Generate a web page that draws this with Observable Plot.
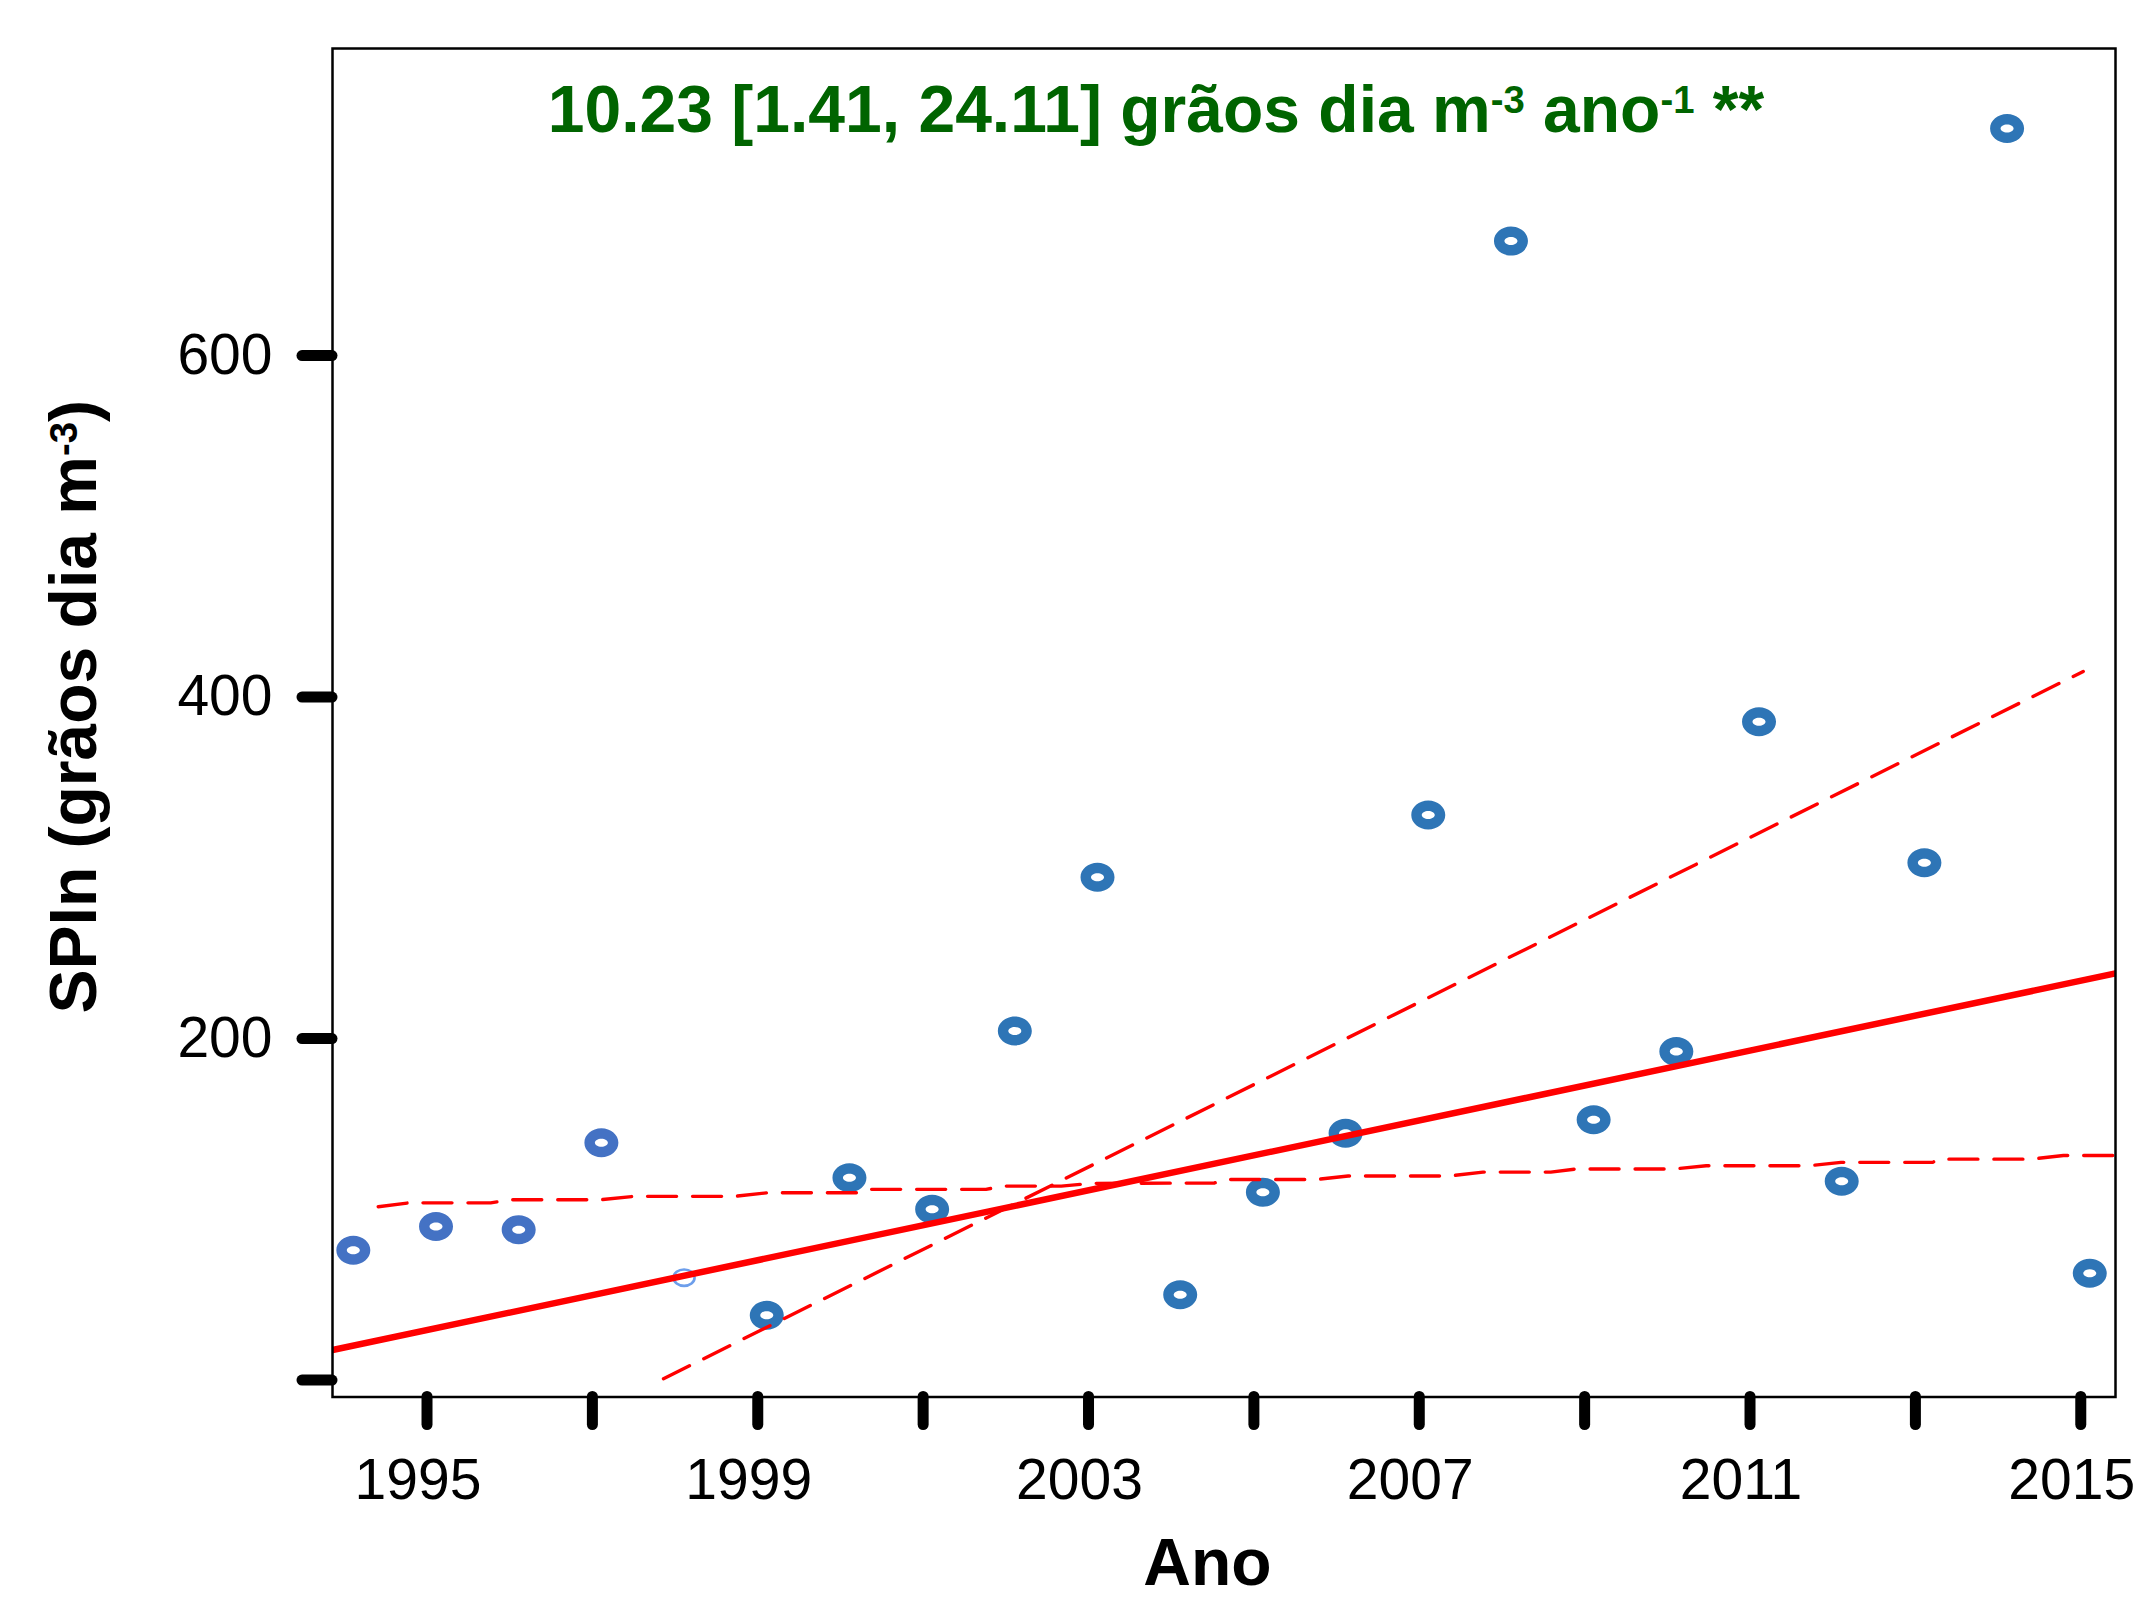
<!DOCTYPE html>
<html>
<head>
<meta charset="utf-8">
<script src="https://cdn.jsdelivr.net/npm/d3@7"></script>
<script src="https://cdn.jsdelivr.net/npm/@observablehq/plot@0.6"></script>
<style>
  html, body { margin: 0; padding: 0; background: #ffffff; }
  #chart { width: 2136px; height: 1604px; overflow: hidden; }
</style>
</head>
<body>
<div id="chart"></div>
<script>
// ---------------- data ----------------
const years = [1994, 1995, 1996, 1997, 1998, 1999, 2000, 2001, 2002, 2003, 2004,
               2005, 2006, 2007, 2008, 2009, 2010, 2011, 2012, 2013, 2014, 2015];
const spin = [76, 90, 88, 139, 60, 38, 118.5, 100, 204.5, 294.5, 50,
              110, 144.5, 331, 667, 152.5, 192.5, 385.5, 116.5, 303, 733, 62.5];
const pointGroup = ["early", "early", "early", "early", "hollow",
                    "late", "late", "late", "late", "late", "late", "late", "late", "late",
                    "late", "late", "late", "late", "late", "late", "late", "late"];

// fitted trend (solid) and the two dashed bounds
const trendYear = [1993.857, 2015.42];
const trendValue = [17.6, 238.2];
const lowerYear = [1994.41, 1994.78, 1995.77, 1996.02, 1997.10, 1997.50, 1998.71, 1999.12,
                   2000.25, 2000.34, 2001.76, 2001.98, 2002.67, 2003.03, 2004.52, 2004.66,
                   2005.75, 2006.14, 2007.36, 2007.77, 2008.59, 2008.89, 2010.07, 2010.47,
                   2011.70, 2012.10, 2013.21, 2013.28, 2014.40, 2014.79, 2015.42];
const lowerValue = [101.5, 103.8, 103.8, 105.6, 105.6, 107.6, 107.6, 109.7,
                    109.7, 111.7, 111.7, 113.6, 113.6, 115.2, 115.4, 117.5,
                    117.5, 119.5, 119.5, 121.8, 121.8, 123.6, 123.6, 125.5,
                    125.5, 127.5, 127.5, 129.4, 129.4, 131.5, 131.5];
const upperYear = [1997.86, 2015.03];
const upperValue = [0.8, 415];

// ticks and labels
const xTicks = [1995, 1997, 1999, 2001, 2003, 2005, 2007, 2009, 2011, 2013, 2015];
const xTickLabels = ["1995", "", "1999", "", "2003", "", "2007", "", "2011", "", "2015"];
const yTicks = [0, 200, 400, 600];
const yTickLabels = ["", "200", "400", "600"];

const titleText = "10.23 [1.41, 24.11] grãos dia m^{-3} ano^{-1} **";
const yLabelText = "SPIn (grãos dia m^{-3})";
const xLabelText = "Ano";

// ---------------- tables for the library ----------------
const points = years.map((y, i) => ({year: y, value: spin[i], group: pointGroup[i]}));
const trend = trendYear.map((y, i) => ({year: y, value: trendValue[i]}));
const lower = lowerYear.map((y, i) => ({year: y, value: lowerValue[i]}));
const upper = upperYear.map((y, i) => ({year: y, value: upperValue[i]}));

// elliptical donut symbol (outer clockwise, inner counter-clockwise -> hole)
function ellipsePath(ctx, rx, ry, ccw) {
  const k = 0.5523;
  ctx.moveTo(rx, 0);
  if (!ccw) {
    ctx.bezierCurveTo(rx, k * ry, k * rx, ry, 0, ry);
    ctx.bezierCurveTo(-k * rx, ry, -rx, k * ry, -rx, 0);
    ctx.bezierCurveTo(-rx, -k * ry, -k * rx, -ry, 0, -ry);
    ctx.bezierCurveTo(k * rx, -ry, rx, -k * ry, rx, 0);
  } else {
    ctx.bezierCurveTo(rx, -k * ry, k * rx, -ry, 0, -ry);
    ctx.bezierCurveTo(-k * rx, -ry, -rx, -k * ry, -rx, 0);
    ctx.bezierCurveTo(-rx, k * ry, -k * rx, ry, 0, ry);
    ctx.bezierCurveTo(k * rx, ry, rx, k * ry, rx, 0);
  }
  ctx.closePath();
}
const donut = {draw(ctx) { ellipsePath(ctx, 17, 14.5, false); ellipsePath(ctx, 6.5, 4, true); }};
const ring = {draw(ctx) { ellipsePath(ctx, 10.5, 8.2, false); }};

const FONT = "'Liberation Sans', Arial, Helvetica, sans-serif";

const chart = Plot.plot({
  width: 2136,
  height: 1604,
  marginLeft: 332,
  marginRight: 21,
  marginTop: 48,
  marginBottom: 207.5,
  style: {background: "#ffffff", color: "#000000", fontFamily: FONT, fontSize: "57px"},
  x: {domain: [1993.857, 2015.42]},
  y: {domain: [-9.9, 779.8]},
  marks: [
    // points
    Plot.dot(points, {filter: d => d.group === "early", x: "year", y: "value", symbol: donut, fill: "#4472C4", dx: 9}),
    Plot.dot(points, {filter: d => d.group === "late", x: "year", y: "value", symbol: donut, fill: "#2E75B6", dx: 9}),
    Plot.dot(points, {filter: d => d.group === "hollow", x: "year", y: "value", symbol: ring, fill: "none", stroke: "#6D9EEB", strokeWidth: 2.6, dx: 9}),
    // dashed bounds
    Plot.line(lower, {x: "year", y: "value", stroke: "#FF0000", strokeWidth: 3.4, strokeDasharray: "29,16", strokeLinecap: "round", clip: true}),
    Plot.line(upper, {x: "year", y: "value", stroke: "#FF0000", strokeWidth: 3.4, strokeDasharray: "29,16", strokeLinecap: "round", clip: true}),
    // trend
    Plot.line(trend, {x: "year", y: "value", stroke: "#FF0000", strokeWidth: 6.5, clip: true}),
    // axes
    Plot.axisX(xTicks, {anchor: "bottom", tickSize: 28, strokeWidth: 11, strokeLinecap: "round", tickFormat: () => "", label: null}),
    Plot.axisX(xTicks, {anchor: "bottom", tickSize: 0, tickPadding: 62, dx: -9, fontSize: 57, fontFamily: FONT,
      tickFormat: d => xTickLabels[xTicks.indexOf(d)], label: null}),
    Plot.axisY(yTicks, {anchor: "left", tickSize: 30, tickPadding: 30, strokeWidth: 11, strokeLinecap: "round", fontSize: 57, fontFamily: FONT,
      tickFormat: d => yTickLabels[yTicks.indexOf(d)], label: null}),
    Plot.frame({stroke: "#000000", strokeWidth: 2.5}),
    // title & axis titles
    Plot.text([titleText], {frameAnchor: "top", text: d => d, textAnchor: "middle", lineAnchor: "top", dx: -68, dy: 37,
      fontSize: 66, fontWeight: "bold", fill: "#006400", fontFamily: FONT}),
    Plot.text([yLabelText], {frameAnchor: "left", text: d => d, rotate: -90, textAnchor: "middle", lineAnchor: "top", dx: -283, dy: -16,
      fontSize: 66, fontWeight: "bold", fill: "#000000", fontFamily: FONT}),
    Plot.text([xLabelText], {frameAnchor: "bottom", text: d => d, textAnchor: "middle", lineAnchor: "top", dx: -16.5, dy: 141,
      fontSize: 66, fontWeight: "bold", fill: "#000000", fontFamily: FONT})
  ]
});

// superscripts: turn "^{...}" into raised, smaller tspans
function renderRich(el, raw, base) {
  const parts = raw.split(/\^\{([^}]*)\}/);
  el.textContent = "";
  const shift = 0.3 * base;
  let raised = false;
  parts.forEach((p, i) => {
    const isSup = i % 2 === 1;
    const ts = document.createElementNS("http://www.w3.org/2000/svg", "tspan");
    if (isSup) {
      ts.setAttribute("font-size", (0.58 * base) + "px");
      ts.setAttribute("dy", (-shift) + "");
      raised = true;
    } else if (raised) {
      ts.setAttribute("dy", shift + "");
      raised = false;
    }
    ts.textContent = p;
    if (p !== "" || ts.hasAttribute("dy")) el.appendChild(ts);
  });
}
d3.select(chart).selectAll("text").each(function () {
  const t = this.textContent;
  if (t === titleText) renderRich(this, titleText, 66);
  else if (t === yLabelText) renderRich(this, yLabelText, 66);
});

document.getElementById("chart").appendChild(chart);
</script>
</body>
</html>
